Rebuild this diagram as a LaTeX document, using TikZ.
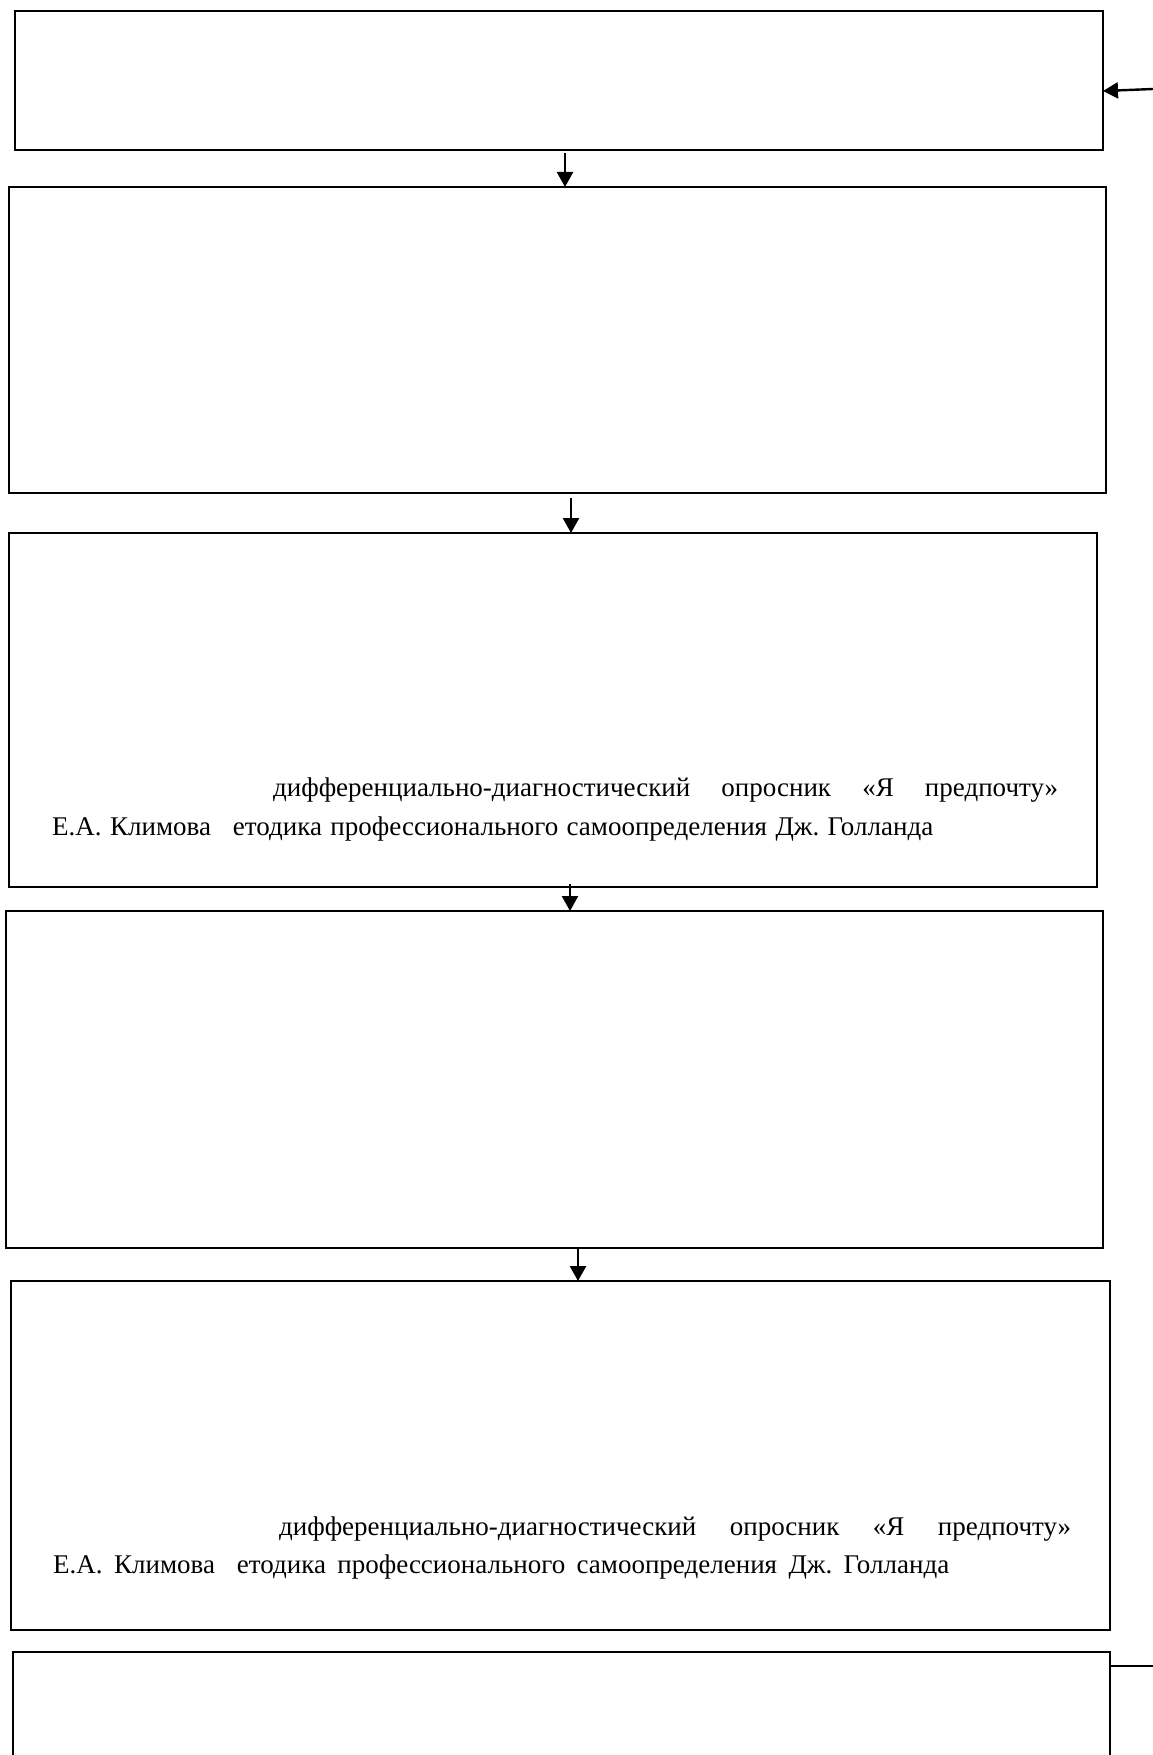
\documentclass[tikz,border=0pt]{standalone}
\usepackage{fontspec}
\setmainfont{Liberation Serif}
\usepackage{tikz}
\usetikzlibrary{arrows.meta, positioning, calc}
\frenchspacing

\begin{document}
\begin{tikzpicture}[x=1pt, y=-1pt,
        box/.style={rectangle, draw=black, line width=1.2pt, fill=white, inner sep=0pt, outer sep=0pt, anchor=north west},
        txt/.style={anchor=base west, inner sep=0pt, font=\fontsize{27}{32}\selectfont},
        arr/.style={line width=2.4pt, -{Triangle[length=15pt, width=16pt]}},
        ln/.style={line width=1.2pt}
    ]
        \useasboundingbox (0,0) rectangle (1153,1755);

        % Box 1
        \node[box, minimum width=1088pt, minimum height=139pt] (b1) at (15, 11) {};

        % Box 2
        \node[box, minimum width=1097pt, minimum height=306pt] (b2) at (9, 187) {};

        % Box 3
        \node[box, minimum width=1088pt, minimum height=354pt] (b3) at (9, 533) {};
        \node[txt] (t31) at (273, 796) {\hbox to 785pt{дифференциально-диагностический\hfill опросник\hfill «Я\hfill предпочту»}};
        \node[txt] (t32) at (52, 835) {\hbox to 881pt{Е.А. Климова\hspace{22pt}етодика профессионального самоопределения Дж. Голланда}};

        % Box 4
        \node[box, minimum width=1097pt, minimum height=337pt] (b4) at (6, 911) {};

        % Box 5
        \node[box, minimum width=1099pt, minimum height=349pt] (b5) at (11, 1281) {};
        \node[txt] (t51) at (279, 1535) {\hbox to 792pt{дифференциально-диагностический\hfill опросник\hfill «Я\hfill предпочту»}};
        \node[txt] (t52) at (53, 1573) {\hbox to 896pt{Е.А. Климова\hspace{22pt}етодика профессионального самоопределения Дж. Голланда}};

        % Box 6
        \node[box, minimum width=1097pt, minimum height=160pt] (b6) at (13, 1652) {};

        % Arrows
        \coordinate (in1) at (1153, 89);
        \coordinate (a1) at (565, 153);
        \coordinate (a2) at (571, 498);
        \coordinate (a3) at (570, 884);
        \coordinate (a4) at (578, 1248);
        \draw[arr] (in1) -- (b1.east |- 0,91);
        \draw[arr] (a1) -- (a1 |- b2.north);
        \draw[arr] (a2) -- (a2 |- b3.north);
        \draw[arr] (a3) -- (a3 |- b4.north);
        \draw[arr] (a4) -- (a4 |- b5.north);

        % Line out of box 6
        \coordinate (out6) at (1153, 1666);
        \draw[ln] (b6.east |- out6) -- (out6);
    \end{tikzpicture}
\end{document}
